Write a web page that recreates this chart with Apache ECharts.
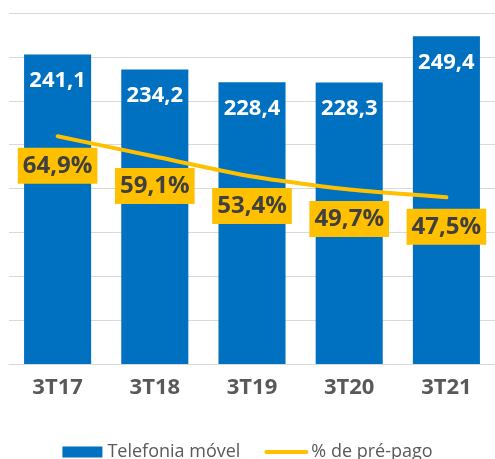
<!DOCTYPE html>
<html>
<head>
<meta charset="utf-8">
<script src="https://cdn.jsdelivr.net/npm/echarts@6/dist/echarts.min.js"></script>
<style>
  html, body { margin: 0; padding: 0; background: #fff; }
  #chart { width: 495px; height: 459px; }
</style>
</head>
<body>
<div id="chart"></div>
<script>
const categories = ['3T17', '3T18', '3T19', '3T20', '3T21']
const acessos = [241.1, 234.2, 228.4, 228.3, 249.4]
const prePago = [64.9, 59.1, 53.4, 49.7, 47.5]

const fmt = (v, d) => v.toFixed(d).replace('.', ',')
const font = '"Open Sans", "DejaVu Sans", sans-serif'

const chart = echarts.init(document.getElementById('chart'), null, { renderer: 'canvas' })

const option = {
  animation: false,
  textStyle: { fontFamily: font },
  grid: {
    left: 9,
    width: 491,
    top: 13,
    bottom: 95
  },
  legend: {
    left: 'center',
    top: 438,
    itemWidth: 40,
    itemHeight: 11,
    itemGap: 24,
    textStyle: { fontSize: 18, color: '#595959', fontFamily: font },
    data: [
      { name: 'Telefonia móvel', icon: 'rect' },
      {
        name: '% de pré-pago',
        itemStyle: { opacity: 0 },
        lineStyle: { width: 4, color: '#FFC000', cap: 'round' }
      }
    ]
  },
  xAxis: {
    type: 'category',
    data: categories,
    axisTick: { show: false },
    axisLine: { lineStyle: { color: '#D9D9D9', width: 1 } },
    axisLabel: {
      color: '#595959',
      fontSize: 22,
      fontWeight: 'bold',
      fontFamily: font,
      margin: 13
    }
  },
  yAxis: [
    {
      type: 'value',
      min: 100,
      max: 260,
      interval: 20,
      axisLabel: { show: false },
      axisLine: { show: false },
      axisTick: { show: false },
      splitLine: { lineStyle: { color: '#D9D9D9', width: 1 } }
    },
    {
      type: 'value',
      min: 0,
      max: 100,
      show: false,
      splitLine: { show: false }
    }
  ],
  series: [
    {
      name: 'Telefonia móvel',
      type: 'bar',
      data: acessos,
      barWidth: '69%',
      itemStyle: { color: '#0070C0' },
      label: {
        show: true,
        position: 'insideTop',
        distance: 15,
        color: '#fff',
        fontSize: 22,
        fontWeight: 'bold',
        fontFamily: font,
        formatter: p => fmt(p.value, 1)
      }
    },
    {
      name: '% de pré-pago',
      type: 'line',
      yAxisIndex: 1,
      data: prePago,
      smooth: 0.2,
      symbol: 'circle',
      symbolSize: 1,
      itemStyle: { color: '#FFC000' },
      lineStyle: { color: '#FFC000', width: 4, cap: 'round' },
      z: 5,
      label: {
        show: true,
        position: 'bottom',
        distance: 11,
        color: '#404040',
        backgroundColor: '#FFC000',
        padding: [4, 5],
        lineHeight: 28,
        fontSize: 24,
        fontWeight: 'bold',
        fontFamily: font,
        formatter: p => fmt(p.value, 1) + '%'
      }
    }
  ]
}

chart.setOption(option)
</script>
</body>
</html>
